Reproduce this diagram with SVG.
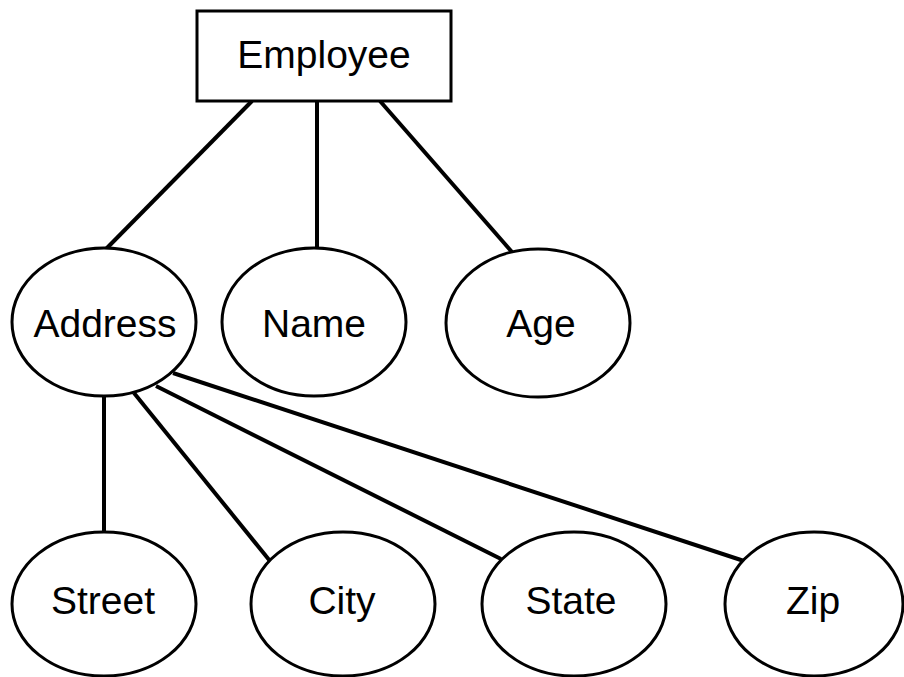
<svg xmlns="http://www.w3.org/2000/svg" width="904" height="677" viewBox="0 0 904 677">
<style>
.shape{fill:#fff;stroke:#000;stroke-width:3}
.lbl{font-family:"Liberation Sans",Arial,sans-serif;font-size:39px;fill:#000;text-anchor:middle}
.conn line{stroke:#000;stroke-width:4;stroke-linecap:butt}
</style>
<rect width="904" height="677" fill="#fff"/>
<g id="connectors" class="conn">
<line x1="252" y1="101" x2="106" y2="249"/>
<line x1="317" y1="101" x2="317" y2="249"/>
<line x1="380" y1="101" x2="512" y2="252"/>
<line x1="104" y1="396" x2="104" y2="532"/>
<line x1="134" y1="393" x2="270" y2="561"/>
<line x1="156" y1="386" x2="501" y2="559"/>
<line x1="173" y1="373" x2="744" y2="561"/>
</g>
<g id="employee">
<rect class="shape" x="197" y="11" width="254" height="90"/>
<text class="lbl" x="324" y="68">Employee</text>
</g>
<g id="address">
<ellipse class="shape" cx="104" cy="322" rx="92" ry="74"/>
<text class="lbl" x="105" y="337">Address</text>
</g>
<g id="name">
<ellipse class="shape" cx="314" cy="322" rx="92" ry="74"/>
<text class="lbl" x="314" y="337">Name</text>
</g>
<g id="age">
<ellipse class="shape" cx="538" cy="323" rx="92" ry="74"/>
<text class="lbl" x="541" y="337">Age</text>
</g>
<g id="street">
<ellipse class="shape" cx="104" cy="604" rx="92" ry="72"/>
<text class="lbl" x="103" y="614">Street</text>
</g>
<g id="city">
<ellipse class="shape" cx="343" cy="604" rx="92" ry="72"/>
<text class="lbl" x="342" y="614">City</text>
</g>
<g id="state">
<ellipse class="shape" cx="574" cy="604" rx="92" ry="72"/>
<text class="lbl" x="571" y="614">State</text>
</g>
<g id="zip">
<ellipse class="shape" cx="814" cy="604" rx="89" ry="72"/>
<text class="lbl" x="813" y="614">Zip</text>
</g>
</svg>
